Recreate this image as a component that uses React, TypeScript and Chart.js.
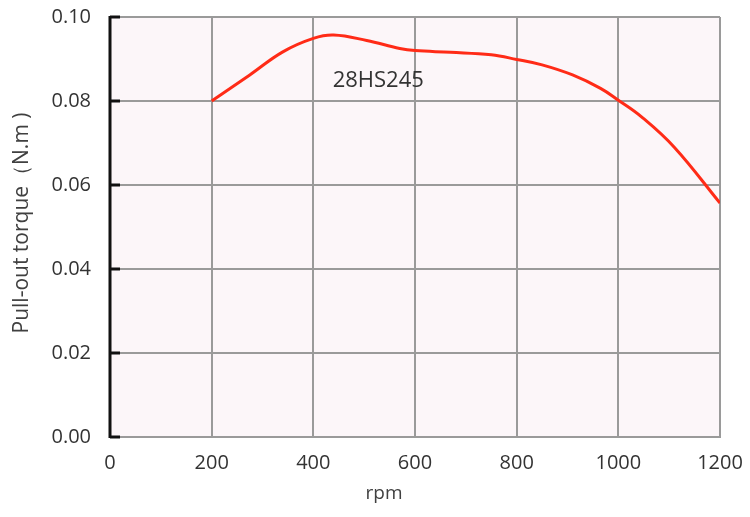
import React, { useEffect, useRef } from "react";
import { Chart, registerables } from "chart.js";

Chart.register(...registerables);

const rpm = [200, 275, 340, 400, 440, 505, 570, 600, 670, 750, 800, 850, 910, 965, 1000, 1045, 1110, 1200];
const torque = [0.08, 0.0862, 0.0917, 0.0949, 0.0957, 0.0944, 0.0925, 0.092, 0.0916, 0.091, 0.0899, 0.0886, 0.0862, 0.083, 0.0802, 0.0763, 0.069, 0.0557];
const xTicks = [0, 200, 400, 600, 800, 1000, 1200];
const yTicks = [0, 0.02, 0.04, 0.06, 0.08, 0.1];
const seriesLabel = "28HS245";
const xTitle = "rpm";
const yTitle = "Pull-out torque（N.m )";

const FONT = "'Open Sans', 'Noto Sans', sans-serif";

export default function App() {
  const ref = useRef<HTMLCanvasElement | null>(null);
  useEffect(() => {
    document.body.style.margin = "0";
    const canvas = ref.current!;
    const decor = {
      id: "decor",
      beforeDraw(chart: any) {
        const { ctx, chartArea: a } = chart;
        ctx.save();
        ctx.fillStyle = "#fcf6f9";
        ctx.fillRect(a.left, a.top, a.right - a.left, a.bottom - a.top);
        ctx.restore();
      },
      afterDraw(chart: any) {
        const { ctx, chartArea: a, scales } = chart;
        ctx.save();
        ctx.strokeStyle = "#111";
        ctx.lineWidth = 3;
        ctx.beginPath();
        ctx.moveTo(a.left, a.top - 1);
        ctx.lineTo(a.left, a.bottom + 1);
        ctx.stroke();
        for (const t of yTicks) {
          const y = scales.y.getPixelForValue(t);
          ctx.beginPath();
          ctx.moveTo(a.left, y);
          ctx.lineTo(a.left + 10, y);
          ctx.stroke();
        }
        ctx.fillStyle = "#333";
        ctx.font = `22px ${FONT}`;
        ctx.textAlign = "left";
        ctx.textBaseline = "middle";
        ctx.fillText(seriesLabel, scales.x.getPixelForValue(438), scales.y.getPixelForValue(0.0848));
        ctx.fillStyle = "#404040";
        ctx.font = `19px ${FONT}`;
        ctx.textAlign = "center";
        ctx.fillText(xTitle, 384, 494);
        ctx.font = `21px ${FONT}`;
        ctx.translate(22, 223);
        ctx.rotate(-Math.PI / 2);
        ctx.fillText(yTitle, 0, 0);
        ctx.restore();
      },
    };
    const chart = new Chart(canvas, {
      type: "line",
      data: {
        datasets: [
          {
            data: rpm.map((x, i) => ({ x, y: torque[i] })),
            borderColor: "#ff2b17",
            borderWidth: 3,
            pointRadius: 0,
            tension: 0.4,
            fill: false,
          },
        ],
      },
      options: {
        animation: false,
        responsive: false,
        layout: { padding: { top: 17, right: 30, left: 0, bottom: 0 } },
        plugins: { legend: { display: false }, tooltip: { enabled: false } },
        scales: {
          x: {
            type: "linear",
            min: 0,
            max: 1200,
            afterBuildTicks: (s: any) => {
              s.ticks = xTicks.map((v) => ({ value: v }));
            },
            afterFit: (s: any) => {
              s.height = 80;
              s.paddingLeft = 0;
              s.paddingRight = 0;
            },
            grid: { color: "#9a9a9a", lineWidth: 2, drawTicks: false },
            border: { color: "#9a9a9a", width: 2 },
            ticks: {
              color: "#333",
              font: { size: 20, family: FONT },
              padding: 14,
              maxRotation: 0,
              callback: (v: any) => String(v),
            },
          },
          y: {
            min: 0,
            max: 0.1,
            afterBuildTicks: (s: any) => {
              s.ticks = yTicks.map((v) => ({ value: v }));
            },
            afterFit: (s: any) => {
              s.width = 110;
              s.paddingTop = 0;
              s.paddingBottom = 0;
            },
            grid: { color: "#9a9a9a", lineWidth: 2, drawTicks: false },
            border: { display: false },
            ticks: {
              color: "#333",
              font: { size: 20, family: FONT },
              padding: 19,
              callback: (v: any) => Number(v).toFixed(2),
            },
          },
        },
      },
      plugins: [decor],
    } as any);
    return () => chart.destroy();
  }, []);
  return <canvas ref={ref} width={750} height={517} style={{ display: "block" }} />;
}
